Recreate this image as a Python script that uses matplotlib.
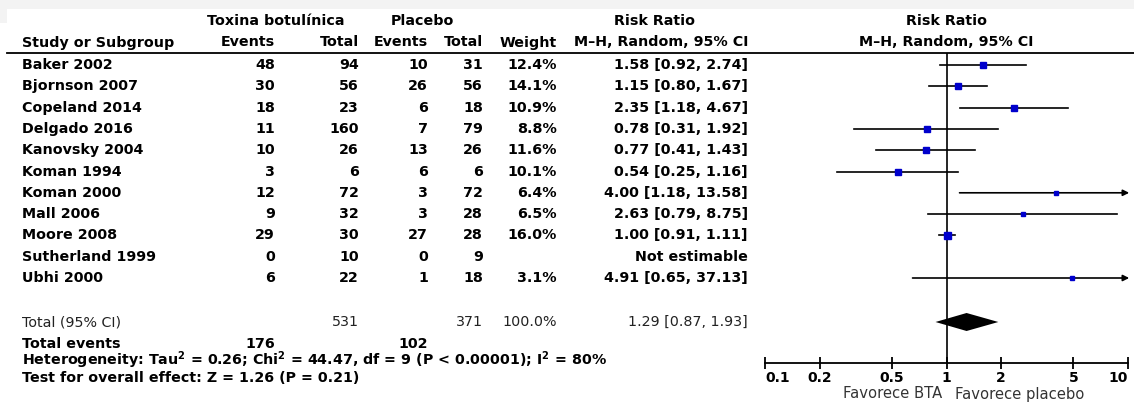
import numpy as np
import matplotlib
matplotlib.use('Agg')
import matplotlib.pyplot as plt
from matplotlib.patches import Polygon, Rectangle

studies = ['Baker 2002', 'Bjornson 2007', 'Copeland 2014', 'Delgado 2016', 'Kanovsky 2004',
           'Koman 1994', 'Koman 2000', 'Mall 2006', 'Moore 2008', 'Sutherland 1999', 'Ubhi 2000']
bta_events = [48, 30, 18, 11, 10, 3, 12, 9, 29, 0, 6]
bta_total = [94, 56, 23, 160, 26, 6, 72, 32, 30, 10, 22]
pla_events = [10, 26, 6, 7, 13, 6, 3, 3, 27, 0, 1]
pla_total = [31, 56, 18, 79, 26, 6, 72, 28, 28, 9, 18]
weight = [12.4, 14.1, 10.9, 8.8, 11.6, 10.1, 6.4, 6.5, 16.0, None, 3.1]
rr = [1.58, 1.15, 2.35, 0.78, 0.77, 0.54, 4.00, 2.63, 1.00, None, 4.91]
ci_lo = [0.92, 0.80, 1.18, 0.31, 0.41, 0.25, 1.18, 0.79, 0.91, None, 0.65]
ci_hi = [2.74, 1.67, 4.67, 1.92, 1.43, 1.16, 13.58, 8.75, 1.11, None, 37.13]

total_bta, total_pla = 531, 371
events_bta, events_pla = 176, 102
pooled = (1.29, 0.87, 1.93)
ticks = [0.1, 0.2, 0.5, 1, 2, 5, 10]
tick_labels = ['0.1', '0.2', '0.5', '1', '2', '5', '10']
heterogeneity = 'Heterogeneity: Tau$^{\\mathbf{2}}$ = 0.26; Chi$^{\\mathbf{2}}$ = 44.47, df = 9 (P < 0.00001); I$^{\\mathbf{2}}$ = 80%'
overall = 'Test for overall effect: Z = 1.26 (P = 0.21)'

W, H = 1134, 403
fig = plt.figure(figsize=(W / 100, H / 100), dpi=100)
fig.patch.set_facecolor('white')

# table layer in pixel-like coordinates
ax = fig.add_axes([0, 0, 1, 1])
ax.set_xlim(0, W)
ax.set_ylim(H, 0)
ax.axis('off')

# faint band of the slide behind the screenshot
ax.add_patch(Rectangle((0, 0), W, 9, color='#f3f3f3', lw=0))
ax.add_patch(Rectangle((0, 0), 7, 23, color='#f3f3f3', lw=0))

fs = 10.3
bold = dict(fontsize=fs, fontweight='bold', color='black', va='center')
norm = dict(fontsize=fs, color='#222222', va='center')

x_name, x_be, x_bt, x_pe, x_pt, x_w, x_ci = 22, 275, 359, 428, 483, 557, 748
y0, dy = 65, 21.3
row_y = [y0 + i * dy for i in range(len(studies))]

# headers
ax.text(276, 21, 'Toxina botulínica', ha='center', **bold)
ax.text(422, 21, 'Placebo', ha='center', **bold)
ax.text(654, 21, 'Risk Ratio', ha='center', **bold)
ax.text(946, 21, 'Risk Ratio', ha='center', **bold)
ax.text(x_name, 42.5, 'Study or Subgroup', ha='left', **bold)
ax.text(x_be, 42.5, 'Events', ha='right', **bold)
ax.text(x_bt, 42.5, 'Total', ha='right', **bold)
ax.text(x_pe, 42.5, 'Events', ha='right', **bold)
ax.text(x_pt, 42.5, 'Total', ha='right', **bold)
ax.text(x_w, 42.5, 'Weight', ha='right', **bold)
ax.text(x_ci, 42.5, 'M\u2013H, Random, 95% CI', ha='right', **bold)
ax.text(946, 42.5, 'M\u2013H, Random, 95% CI', ha='center', **bold)
ax.plot([7, W], [52.5, 52.5], color='black', lw=1.3)

for i, y in enumerate(row_y):
    ax.text(x_name, y, studies[i], ha='left', **bold)
    ax.text(x_be, y, str(bta_events[i]), ha='right', **bold)
    ax.text(x_bt, y, str(bta_total[i]), ha='right', **bold)
    ax.text(x_pe, y, str(pla_events[i]), ha='right', **bold)
    ax.text(x_pt, y, str(pla_total[i]), ha='right', **bold)
    if weight[i] is not None:
        ax.text(x_w, y, f'{weight[i]:.1f}%', ha='right', **bold)
        ax.text(x_ci, y, f'{rr[i]:.2f} [{ci_lo[i]:.2f}, {ci_hi[i]:.2f}]', ha='right', **bold)
    else:
        ax.text(x_ci, y, 'Not estimable', ha='right', **bold)

y_tot = 322
ax.text(x_name, y_tot, 'Total (95% CI)', ha='left', **norm)
ax.text(x_bt, y_tot, str(total_bta), ha='right', **norm)
ax.text(x_pt, y_tot, str(total_pla), ha='right', **norm)
ax.text(x_w, y_tot, '100.0%', ha='right', **norm)
ax.text(x_ci, y_tot, f'{pooled[0]:.2f} [{pooled[1]:.2f}, {pooled[2]:.2f}]', ha='right', **norm)
ax.text(x_name, 344, 'Total events', ha='left', **bold)
ax.text(x_be, 344, str(events_bta), ha='right', **bold)
ax.text(x_pe, 344, str(events_pla), ha='right', **bold)
ax.text(x_name, 360, heterogeneity, ha='left', **bold)
ax.text(x_name, 378, overall, ha='left', **bold)

# forest plot layer, y shares the pixel rows of the table
left, right, top, bottom = 765, 1128, 52.5, 363
fx = fig.add_axes([left / W, (H - bottom) / H, (right - left) / W, (bottom - top) / H])
fx.patch.set_alpha(0)
fx.set_xscale('log')
fx.set_xlim(0.1, 10)
fx.set_ylim(bottom, top)
for s in ['top', 'left', 'right']:
    fx.spines[s].set_visible(False)
fx.spines['bottom'].set_linewidth(1.3)
fx.set_yticks([])
fx.xaxis.set_minor_locator(matplotlib.ticker.NullLocator())
fx.set_xticks(ticks)
fx.set_xticklabels(tick_labels)
fx.tick_params(axis='x', direction='inout', length=8, width=1.3, pad=2, labelsize=10)
for lbl in fx.get_xticklabels():
    lbl.set_fontweight('bold')
labels = fx.get_xticklabels()
labels[0].set_ha('left')
labels[-1].set_ha('right')
fx.axvline(1, color='black', lw=1.2)

for i, y in enumerate(row_y):
    if rr[i] is None:
        continue
    if ci_hi[i] > 10:
        fx.annotate('', xy=(10.15, y), xytext=(ci_lo[i], y), annotation_clip=False,
                    arrowprops=dict(arrowstyle='-|>', color='black', lw=1.2,
                                    mutation_scale=9, shrinkA=0, shrinkB=0))
    else:
        fx.plot([ci_lo[i], ci_hi[i]], [y, y], color='black', lw=1.2)
    side = 1.75 * np.sqrt(weight[i]) * 0.72
    fx.plot(rr[i], y, marker='s', ms=side, color='#0000cc', mec='#0000cc', zorder=3)

est, lo, hi = pooled
fx.add_patch(Polygon([(lo, y_tot), (est, y_tot - 9), (hi, y_tot), (est, y_tot + 9)],
                     closed=True, color='black', lw=0))

fig.text(942 / W, 1 - 394 / H, 'Favorece BTA', ha='right', va='center', fontsize=10.6, color='#333333')
fig.text(955 / W, 1 - 394 / H, 'Favorece placebo', ha='left', va='center', fontsize=10.6, color='#333333')

fig.savefig('out.png', dpi=100)
